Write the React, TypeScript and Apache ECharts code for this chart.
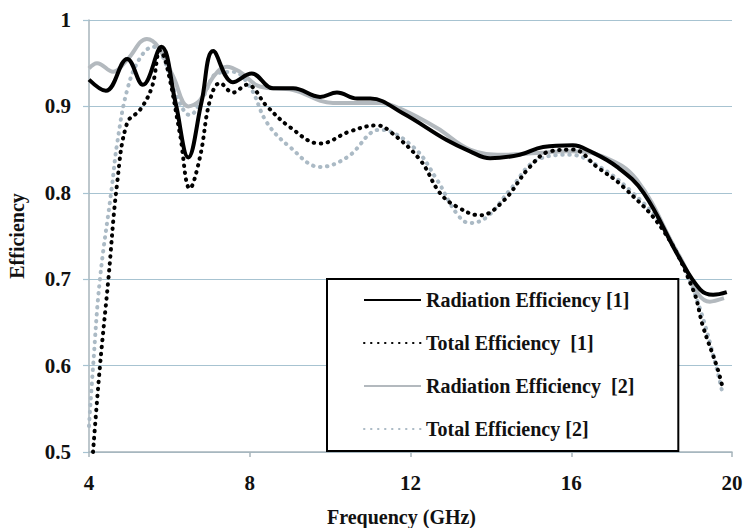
import React, { useEffect, useRef } from "react";
import * as echarts from "echarts";

const xTicks = [4, 8, 12, 16, 20];
const yTicks = [0.5, 0.6, 0.7, 0.8, 0.9, 1];

const freqRad1 = [4.0, 4.42, 4.95, 5.34, 5.8, 6.15, 6.47, 6.8, 7.09, 7.58, 8.05, 8.58, 9.08, 9.75, 10.17, 10.67, 11.0, 11.81, 12.9, 13.48, 13.98, 14.72, 15.3, 16.04, 16.47, 17.14, 17.8, 18.7, 19.21, 19.53, 19.87];
const radEff1 = [0.931, 0.918, 0.955, 0.925, 0.969, 0.905, 0.841, 0.905, 0.964, 0.928, 0.938, 0.921, 0.921, 0.911, 0.916, 0.909, 0.909, 0.892, 0.861, 0.848, 0.84, 0.844, 0.853, 0.855, 0.848, 0.83, 0.8, 0.724, 0.688, 0.682, 0.685];

const freqTot1 = [4.1, 4.27, 4.48, 4.7, 4.95, 5.27, 5.57, 5.77, 5.94, 6.26, 6.51, 6.76, 7.01, 7.26, 7.58, 7.93, 8.43, 9.0, 9.75, 10.49, 11.17, 11.49, 12.24, 12.73, 13.15, 13.73, 14.3, 14.97, 15.47, 16.04, 16.64, 17.29, 18.28, 19.03, 19.28, 19.63, 19.78];
const totEff1 = [0.5, 0.598, 0.699, 0.811, 0.881, 0.896, 0.923, 0.965, 0.946, 0.869, 0.805, 0.841, 0.907, 0.927, 0.916, 0.925, 0.9, 0.876, 0.857, 0.871, 0.878, 0.871, 0.838, 0.8, 0.784, 0.774, 0.79, 0.83, 0.848, 0.85, 0.83, 0.807, 0.757, 0.688, 0.645, 0.598, 0.572];

const freqRad2 = [4.0, 4.2, 4.6, 4.95, 5.44, 5.72, 6.1, 6.47, 6.76, 7.09, 7.43, 7.76, 8.25, 9.08, 10.07, 11.24, 11.81, 12.66, 13.48, 14.3, 15.15, 15.97, 16.79, 17.63, 18.7, 19.45, 19.8];
const radEff2 = [0.944, 0.95, 0.94, 0.954, 0.978, 0.969, 0.934, 0.9, 0.907, 0.934, 0.946, 0.94, 0.923, 0.919, 0.904, 0.904, 0.896, 0.875, 0.85, 0.844, 0.846, 0.848, 0.842, 0.815, 0.726, 0.674, 0.678];

const freqTot2 = [4.0, 4.1, 4.27, 4.57, 4.7, 4.95, 5.27, 5.6, 5.84, 6.19, 6.51, 6.84, 7.18, 7.58, 8.0, 8.43, 9.0, 9.75, 10.42, 11.24, 12.07, 12.66, 13.15, 13.48, 13.9, 14.47, 15.15, 15.97, 16.64, 17.46, 18.28, 19.1, 19.76];
const totEff2 = [0.53, 0.598, 0.699, 0.807, 0.857, 0.919, 0.956, 0.969, 0.957, 0.911, 0.89, 0.911, 0.938, 0.94, 0.923, 0.881, 0.853, 0.83, 0.841, 0.873, 0.853, 0.815, 0.776, 0.765, 0.772, 0.803, 0.838, 0.844, 0.832, 0.803, 0.76, 0.68, 0.569];

const seriesNames = [
  "Radiation Efficiency [1]",
  "Total Efficiency\u00a0 [1]",
  "Radiation Efficiency\u00a0 [2]",
  "Total Efficiency [2]",
];

const FONT = "'Liberation Serif', 'Times New Roman', serif";

function pairs(xs: number[], ys: number[]) {
  return xs.map((x, i) => [x, ys[i]]);
}

export default function App() {
  const ref = useRef<HTMLDivElement>(null);
  useEffect(() => {
    if (!ref.current) return;
    const chart = echarts.init(ref.current, null, { renderer: "svg" });
    const dot = [0.5, 6.5];
    chart.setOption({
      animation: false,
      backgroundColor: "#ffffff",
      grid: { left: 89, right: 13, top: 20, bottom: 76, containLabel: false, outerBoundsMode: "none" },
      xAxis: {
        type: "value",
        min: xTicks[0],
        max: xTicks[xTicks.length - 1],
        interval: 4,
        name: "Frequency (GHz)",
        nameLocation: "middle",
        nameGap: 55,
        nameTextStyle: { fontFamily: FONT, fontWeight: "bold", fontSize: 20, color: "#111", padding: [0, 18, 0, 0] },
        axisLine: { show: true, lineStyle: { color: "#a7b4bb", width: 1.5 } },
        axisTick: { show: true, inside: false, length: 5, lineStyle: { color: "#a7b4bb", width: 1.5 } },
        axisLabel: { fontFamily: FONT, fontWeight: "bold", fontSize: 21, color: "#111", margin: 20 },
        splitLine: { show: false },
      },
      yAxis: {
        type: "value",
        min: yTicks[0],
        max: yTicks[yTicks.length - 1],
        interval: 0.1,
        name: "Efficiency",
        nameLocation: "middle",
        nameGap: 62,
        nameRotate: 90,
        nameTextStyle: { fontFamily: FONT, fontWeight: "bold", fontSize: 20, color: "#111" },
        axisLine: { show: true, lineStyle: { color: "#a7b4bb", width: 1.5 } },
        axisTick: { show: true, inside: false, length: 6, lineStyle: { color: "#a7c3d1", width: 1.2 } },
        axisLabel: {
          fontFamily: FONT,
          fontWeight: "bold",
          fontSize: 21,
          color: "#111",
          margin: 18,
          formatter: (v: number) => (Math.abs(v - 1) < 1e-9 ? "1" : v.toFixed(1)),
        },
        splitLine: { show: true, lineStyle: { color: "#a7c3d1", width: 1.2 } },
      },
      legend: {
        orient: "vertical",
        left: 327,
        top: 279,
        data: seriesNames,
        backgroundColor: "#ffffff",
        borderColor: "#000000",
        borderWidth: 2,
        borderRadius: 0,
        padding: [10, 44, 11, 36],
        itemWidth: 57,
        itemHeight: 14,
        itemGap: 21,
        itemStyle: { color: "rgba(0,0,0,0)", borderWidth: 0, opacity: 0 },
        textStyle: { fontFamily: FONT, fontWeight: "bold", fontSize: 20, color: "#111", lineHeight: 22 },
      },
      series: [
        {
          name: seriesNames[0],
          type: "line",
          data: pairs(freqRad1, radEff1),
          smooth: 0.4,
          symbol: "none",
          z: 4,
          itemStyle: { color: "#000000" },
          lineStyle: { color: "#000000", width: 4 },
        },
        {
          name: seriesNames[1],
          type: "line",
          data: pairs(freqTot1, totEff1),
          smooth: 0.4,
          symbol: "none",
          z: 5,
          itemStyle: { color: "#000000" },
          lineStyle: { color: "#000000", width: 4, type: dot, cap: "round" },
        },
        {
          name: seriesNames[2],
          type: "line",
          data: pairs(freqRad2, radEff2),
          smooth: 0.4,
          symbol: "none",
          z: 3,
          itemStyle: { color: "#b3b9be" },
          lineStyle: { color: "#b3b9be", width: 4 },
        },
        {
          name: seriesNames[3],
          type: "line",
          data: pairs(freqTot2, totEff2),
          smooth: 0.4,
          symbol: "none",
          z: 2,
          itemStyle: { color: "#abbac5" },
          lineStyle: { color: "#abbac5", width: 4, type: dot, cap: "round" },
        },
      ],
    });
    return () => chart.dispose();
  }, []);
  return (
    <div
      ref={ref}
      style={{ position: "fixed", left: 0, top: 0, width: 745, height: 528, background: "#fff" }}
    />
  );
}
